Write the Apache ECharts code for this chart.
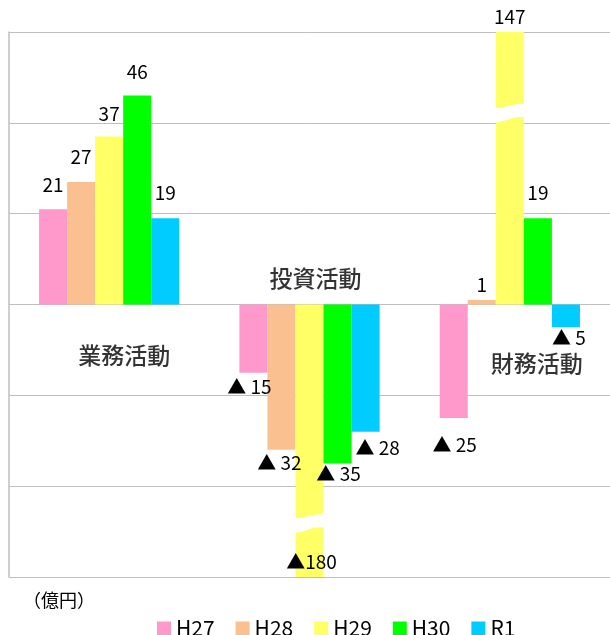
<!DOCTYPE html>
<html>
<head>
<meta charset="utf-8">
<script src="https://cdn.jsdelivr.net/npm/echarts@6.0.0/dist/echarts.min.js"></script>
<style>
html,body{margin:0;padding:0;background:#fff;}
#chart{width:610px;height:635px;}
</style>
</head>
<body>
<div id="chart"></div>
<script>
// ---- data ----
const categories = ['業務活動', '投資活動', '財務活動'];
const seriesNames = ['H27', 'H28', 'H29', 'H30', 'R1'];
const h27 = [21, -15, -25];
const h28 = [27, -32, 1];
const h29 = [37, -180, 147];
const h30 = [46, -35, 19];
const r1 = [19, -28, -5];
const seriesValues = [h27, h28, h29, h30, r1];
// axis (no tick labels shown in the reference)
const axisMin = -60;
const axisMax = 60;
const axisStep = 20;
// bars that exceed the axis are drawn broken; break marks at these values
const breakMarks = [[1, -48], [2, 42.3]];

// ---- style / layout ----
const colors = ['#FF99CC', '#FAC090', '#FFFF66', '#00FF00', '#00CCFF'];
const FONT = "'Noto Sans CJK JP', 'Noto Sans', sans-serif";
const LH = 20;
// per label [dx, distance of label centre from bar end, separator]
const labelLayout = [
  [[0, 24], [-4, 14], [1, 27]],
  [[0, 25], [-2, 13], [0, 15]],
  [[0, 23], [2, -15, ''], [0, 15]],
  [[0, 24], [1, 10], [0, 25]],
  [[0, 25], [12, 16], [3, 11]]
];
// category caption placement: [dx from category centre, y in axis units]
const catCaptionPos = [[15, -11.2], [6, 5.7], [27, -13.0]];

const barSeries = seriesNames.map((name, si) => ({
  name: name,
  type: 'bar',
  barGap: 0,
  barCategoryGap: '30%',
  itemStyle: { color: colors[si] },
  z: 2,
  data: seriesValues[si].map((v, ci) => {
    const lay = labelLayout[si][ci];
    const sep = lay.length > 2 ? lay[2] : ' ';
    const up = v >= 0;
    const off = lay[1] - LH / 2;
    return {
      value: Math.max(axisMin, Math.min(axisMax, v)),
      label: {
        show: true,
        position: up ? 'top' : 'bottom',
        distance: 0,
        offset: [lay[0], up ? -off : off],
        formatter: () => (v < 0 ? '▲' + sep + Math.abs(v) : String(v)),
        fontSize: 19,
        lineHeight: LH,
        fontFamily: FONT,
        color: '#000'
      }
    };
  })
}));

const breakSeries = {
  type: 'custom',
  z: 5,
  silent: true,
  clip: false,
  data: breakMarks,
  renderItem: function (params, api) {
    const p = api.coord([api.value(0), api.value(1)]);
    const w = api.size([1, 0])[0] * 0.7 / 5;
    const x = p[0], y = p[1];
    const l = x - w / 2 - 1, r = x + w / 2 + 1;
    const d = `M${l},${y - 5} C${x - 5},${y - 3} ${x + 3},${y - 10} ${r},${y - 8} ` +
      `L${r},${y + 5} C${x + 3},${y + 3} ${x - 5},${y + 10} ${l},${y + 10} Z`;
    return {
      type: 'path',
      shape: { pathData: d },
      style: { fill: '#fff', stroke: null }
    };
  }
};

const captionSeries = {
  type: 'scatter',
  symbolSize: 0,
  silent: true,
  z: 6,
  data: catCaptionPos.map((p, i) => ({
    value: [i, p[1]],
    label: {
      show: true,
      position: 'inside',
      offset: [p[0], 0],
      formatter: () => categories[i],
      fontSize: 23,
      fontWeight: 500,
      fontFamily: FONT,
      color: '#000'
    }
  }))
};

const chart = echarts.init(document.getElementById('chart'), null, { renderer: 'canvas' });
chart.setOption({
  animation: false,
  backgroundColor: '#fff',
  textStyle: { fontFamily: FONT },
  grid: { left: 9, top: 32, width: 606, height: 545, containLabel: false },
  xAxis: {
    type: 'category',
    data: categories,
    axisLine: { show: false },
    axisTick: { show: false },
    axisLabel: { show: false },
    splitLine: { show: false }
  },
  yAxis: {
    type: 'value',
    min: axisMin,
    max: axisMax,
    interval: axisStep,
    axisLine: { show: true, lineStyle: { color: '#BFBFBF', width: 1.5 } },
    axisTick: { show: false },
    axisLabel: { show: false },
    splitLine: { show: true, lineStyle: { color: '#BFBFBF', width: 1 } }
  },
  legend: {
    data: seriesNames,
    left: 152,
    top: 613,
    icon: 'rect',
    itemWidth: 14,
    itemHeight: 14,
    itemGap: 21,
    textStyle: { fontSize: 21, color: '#000', fontFamily: FONT }
  },
  graphic: [{
    type: 'text',
    left: 23,
    top: 591,
    style: { text: '（億円）', font: '18px ' + FONT, fill: '#000' }
  }],
  series: barSeries.concat([breakSeries, captionSeries])
});
</script>
</body>
</html>
